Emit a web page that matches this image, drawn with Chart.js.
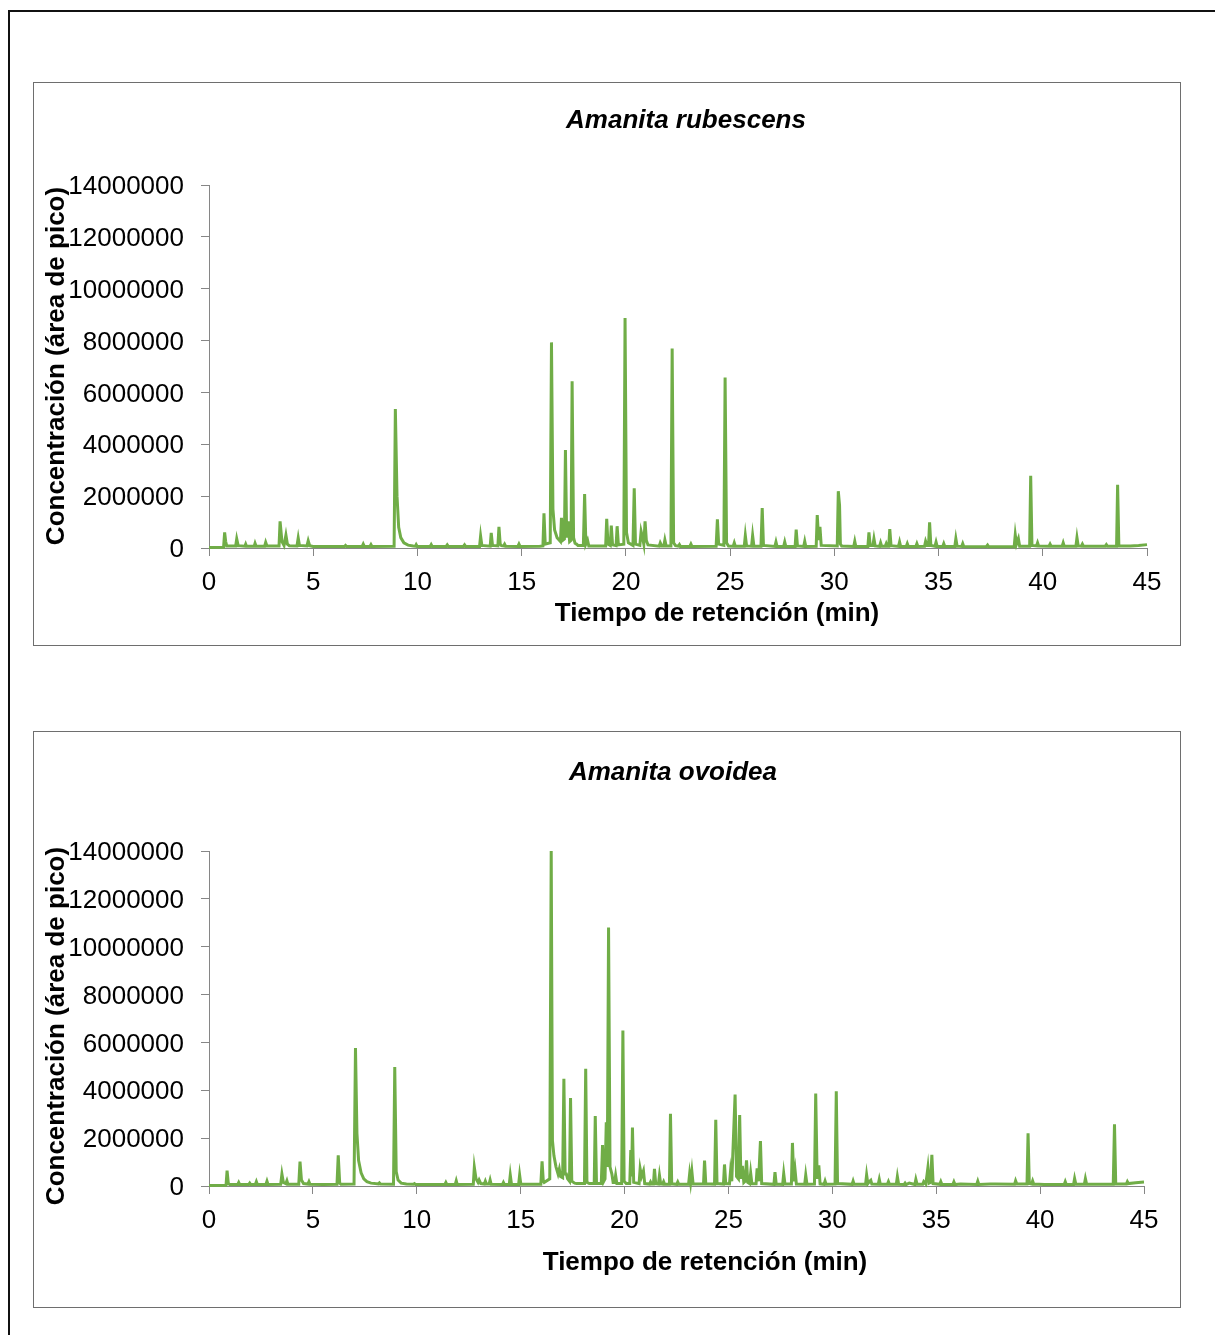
<!DOCTYPE html>
<html>
<head>
<meta charset="utf-8">
<script src="https://cdn.jsdelivr.net/npm/chart.js@4.4.1/dist/chart.umd.min.js"></script>
<style>
  body { margin: 0; background: #fff; }
  #page { position: relative; width: 1215px; height: 1335px; overflow: hidden; }
  .frame { position: absolute; left: 8px; top: 10px; width: 1240px; height: 1360px; border: 2px solid #111; }
  .panel { position: absolute; left: 33px; width: 1148px; border: 1px solid #6e6e6e; box-sizing: border-box; }
  canvas { position: absolute; left: 33px; }
</style>
</head>
<body>
<div id="page">
  <div class="frame"></div>
  <div class="panel" style="top:82px;height:564px"></div>
  <div class="panel" style="top:731px;height:577px"></div>
  <canvas id="rubescensChart" width="1148" height="564" style="top:82px"></canvas>
  <canvas id="ovoideaChart" width="1148" height="577" style="top:731px"></canvas>
</div>
<script>
// titles
const speciesNames = ['Amanita rubescens', 'Amanita ovoidea'];
const xAxisTitle = 'Tiempo de retención (min)';
const yAxisTitle = 'Concentración (área de pico)';

// tick labels
const xTickLabels = ['0', '5', '10', '15', '20', '25', '30', '35', '40', '45'];
const yTickLabels = ['0', '2000000', '4000000', '6000000', '8000000', '10000000', '12000000', '14000000'];

// [retention time (min), peak area]
const rubescensTrace = [
  [0, 20000], [0.70, 30000], [0.75, 600000], [0.80, 250000], [0.85, 80000],
  [1.28, 80000], [1.33, 350000], [1.40, 90000],
  [1.72, 70000], [1.76, 150000], [1.80, 70000],
  [2.17, 70000], [2.21, 180000], [2.26, 70000],
  [2.67, 70000], [2.72, 220000], [2.78, 80000],
  [3.36, 80000], [3.41, 1030000], [3.50, 250000], [3.60, 100000], [3.69, 500000], [3.76, 150000], [3.85, 90000],
  [4.22, 80000], [4.28, 390000], [4.34, 100000],
  [4.70, 80000], [4.76, 280000], [4.83, 90000], [5.00, 60000],
  [6.50, 60000], [6.55, 100000], [6.60, 60000],
  [7.35, 60000], [7.40, 150000], [7.45, 60000],
  [7.72, 60000], [7.77, 130000], [7.82, 60000],
  [8.88, 70000], [8.94, 5360000], [9.02, 2000000], [9.10, 800000], [9.20, 400000], [9.35, 200000], [9.55, 110000], [9.80, 80000],
  [9.90, 70000], [9.94, 130000], [9.99, 60000],
  [10.61, 60000], [10.66, 130000], [10.71, 60000],
  [11.38, 60000], [11.43, 120000], [11.48, 60000],
  [12.21, 60000], [12.26, 120000], [12.31, 60000],
  [12.98, 60000], [13.03, 460000], [13.09, 100000],
  [13.49, 70000], [13.54, 580000], [13.60, 100000],
  [13.86, 80000], [13.91, 820000], [13.97, 150000], [14.03, 90000],
  [14.13, 80000], [14.18, 150000], [14.23, 70000],
  [14.82, 60000], [14.87, 150000], [14.92, 60000],
  [15.87, 70000], [16.02, 80000], [16.07, 1340000], [16.13, 150000], [16.37, 200000], [16.43, 7930000], [16.50, 1500000],
  [16.58, 700000], [16.70, 400000], [16.86, 250000], [16.91, 1160000], [16.97, 300000], [17.05, 350000], [17.10, 3780000],
  [17.16, 400000], [17.23, 1030000], [17.30, 250000], [17.37, 300000], [17.42, 6430000], [17.49, 400000], [17.56, 180000],
  [17.63, 150000], [17.70, 100000],
  [17.96, 100000], [18.02, 2080000], [18.08, 150000], [18.16, 300000], [18.22, 80000],
  [19.03, 80000], [19.08, 1130000], [19.14, 150000], [19.25, 100000], [19.30, 860000], [19.36, 120000],
  [19.53, 90000], [19.58, 840000], [19.64, 120000],
  [19.90, 150000], [19.96, 8870000], [20.03, 600000], [20.12, 200000],
  [20.34, 100000], [20.40, 2300000], [20.46, 150000],
  [20.67, 100000], [20.73, 640000], [20.80, 400000], [20.86, 150000], [20.92, 1030000], [20.98, 300000], [21.06, 120000],
  [21.60, 70000], [21.65, 200000], [21.72, 80000], [21.82, 80000], [21.87, 310000], [21.93, 80000],
  [22.16, 80000], [22.22, 7690000], [22.29, 200000], [22.38, 90000],
  [22.52, 70000], [22.57, 130000], [22.62, 60000],
  [23.07, 60000], [23.12, 150000], [23.17, 60000],
  [24.33, 70000], [24.39, 1110000], [24.45, 150000], [24.70, 100000], [24.76, 6580000], [24.83, 200000], [24.92, 80000],
  [25.15, 70000], [25.20, 200000], [25.25, 70000],
  [25.68, 70000], [25.73, 480000], [25.79, 80000],
  [26.03, 70000], [26.08, 480000], [26.14, 80000],
  [26.48, 70000], [26.54, 1540000], [26.60, 100000],
  [27.15, 60000], [27.20, 230000], [27.25, 60000],
  [27.57, 60000], [27.62, 230000], [27.67, 60000],
  [28.12, 60000], [28.17, 710000], [28.23, 80000],
  [28.53, 60000], [28.58, 260000], [28.63, 60000],
  [29.13, 70000], [29.18, 1270000], [29.25, 300000], [29.31, 820000], [29.37, 100000],
  [30.14, 80000], [30.19, 2190000], [30.25, 1650000], [30.29, 150000], [30.35, 80000],
  [30.93, 60000], [30.98, 260000], [31.03, 60000],
  [31.61, 60000], [31.66, 600000], [31.72, 100000], [31.85, 100000], [31.90, 360000], [31.96, 80000],
  [32.17, 60000], [32.22, 200000], [32.27, 70000], [32.44, 70000], [32.49, 170000], [32.54, 70000],
  [32.61, 70000], [32.66, 730000], [32.72, 90000],
  [33.08, 60000], [33.13, 230000], [33.18, 60000],
  [33.45, 60000], [33.50, 170000], [33.55, 60000],
  [33.91, 60000], [33.96, 170000], [34.01, 60000],
  [34.33, 70000], [34.38, 260000], [34.45, 100000], [34.52, 100000], [34.57, 990000], [34.63, 100000],
  [34.83, 70000], [34.88, 230000], [34.93, 70000],
  [35.20, 60000], [35.25, 170000], [35.30, 60000],
  [35.78, 60000], [35.83, 360000], [35.89, 70000],
  [36.11, 60000], [36.16, 170000], [36.21, 60000],
  [36.80, 50000], [37.30, 60000], [37.35, 110000], [37.40, 50000],
  [38.00, 50000], [38.63, 60000], [38.68, 510000], [38.74, 150000], [38.83, 360000], [38.89, 70000],
  [39.37, 70000], [39.42, 2790000], [39.48, 100000], [39.70, 80000], [39.75, 200000], [39.80, 80000],
  [40.30, 70000], [40.35, 150000], [40.40, 70000],
  [40.93, 70000], [40.98, 200000], [41.03, 70000],
  [41.59, 70000], [41.64, 400000], [41.70, 80000], [41.85, 70000], [41.90, 150000], [41.95, 70000],
  [43.00, 70000], [43.05, 130000], [43.10, 70000],
  [43.54, 70000], [43.59, 2440000], [43.65, 80000],
  [44.20, 80000], [44.60, 100000], [45.00, 130000]
];

const ovoideaTrace = [
  [0, 20000], [0.82, 30000], [0.87, 640000], [0.93, 100000], [1.00, 60000],
  [1.38, 60000], [1.43, 150000], [1.48, 60000],
  [1.91, 60000], [1.96, 120000], [2.01, 60000],
  [2.23, 60000], [2.28, 180000], [2.33, 60000],
  [2.74, 60000], [2.79, 200000], [2.84, 60000],
  [3.45, 70000], [3.51, 500000], [3.58, 150000], [3.70, 100000], [3.75, 220000], [3.80, 70000],
  [4.32, 70000], [4.38, 1020000], [4.45, 250000], [4.55, 100000], [4.76, 80000], [4.81, 180000], [4.86, 70000],
  [5.50, 60000], [6.16, 70000], [6.22, 1280000], [6.29, 120000], [6.35, 70000],
  [6.98, 80000], [7.05, 5770000], [7.12, 2200000], [7.20, 1060000], [7.32, 550000], [7.45, 300000], [7.60, 180000],
  [7.80, 120000], [8.00, 100000], [8.15, 90000], [8.20, 130000], [8.25, 80000],
  [8.88, 70000], [8.94, 4970000], [9.01, 600000], [9.10, 250000], [9.25, 120000], [9.50, 80000],
  [9.84, 70000], [9.89, 100000], [9.94, 60000],
  [11.35, 60000], [11.40, 150000], [11.45, 60000],
  [11.85, 60000], [11.90, 220000], [11.95, 60000],
  [12.72, 70000], [12.77, 780000], [12.85, 300000], [12.95, 150000], [13.00, 250000], [13.08, 100000],
  [13.25, 80000], [13.30, 200000], [13.35, 80000], [13.48, 80000], [13.53, 250000], [13.58, 70000],
  [14.12, 60000], [14.17, 150000], [14.22, 60000],
  [14.45, 60000], [14.50, 460000], [14.56, 70000],
  [14.90, 60000], [14.95, 460000], [15.01, 70000],
  [15.97, 70000], [16.03, 1030000], [16.09, 200000], [16.13, 150000], [16.40, 300000], [16.47, 14000000],
  [16.53, 1900000], [16.60, 1270000], [16.70, 800000], [16.80, 500000], [16.86, 710000], [16.92, 400000],
  [17.02, 350000], [17.08, 4480000], [17.14, 500000], [17.20, 500000], [17.26, 300000], [17.35, 200000],
  [17.40, 3680000], [17.46, 200000], [17.60, 120000], [17.70, 100000],
  [18.07, 100000], [18.13, 4900000], [18.19, 150000], [18.30, 100000],
  [18.54, 100000], [18.59, 2920000], [18.65, 100000],
  [18.88, 100000], [18.94, 1710000], [19.00, 200000], [19.06, 300000], [19.12, 2660000], [19.17, 800000],
  [19.23, 10800000], [19.30, 800000], [19.39, 500000], [19.45, 150000], [19.52, 150000], [19.57, 450000], [19.63, 100000],
  [19.86, 100000], [19.92, 6500000], [19.98, 200000], [20.08, 100000],
  [20.25, 100000], [20.30, 1500000], [20.34, 400000], [20.38, 2440000], [20.44, 150000],
  [20.70, 100000], [20.75, 720000], [20.82, 400000], [20.91, 630000], [20.97, 100000],
  [21.20, 80000], [21.25, 170000], [21.30, 80000],
  [21.39, 80000], [21.44, 720000], [21.50, 100000], [21.63, 80000], [21.68, 450000], [21.74, 90000],
  [21.83, 80000], [21.88, 180000], [21.93, 70000],
  [22.16, 70000], [22.21, 3020000], [22.27, 90000],
  [22.51, 70000], [22.56, 170000], [22.61, 70000],
  [23.08, 70000], [23.13, 490000], [23.18, 150000], [23.24, 610000], [23.30, 80000],
  [23.80, 80000], [23.85, 1060000], [23.91, 90000],
  [24.33, 80000], [24.39, 2770000], [24.45, 100000],
  [24.76, 80000], [24.81, 900000], [24.87, 100000],
  [25.05, 90000], [25.10, 610000], [25.16, 200000], [25.32, 3820000], [25.39, 400000], [25.48, 300000],
  [25.54, 2970000], [25.60, 300000], [25.67, 840000], [25.74, 150000], [25.80, 200000], [25.87, 1070000],
  [25.93, 150000], [26.02, 100000], [26.07, 540000], [26.13, 90000],
  [26.33, 90000], [26.38, 740000], [26.45, 200000], [26.54, 1880000], [26.60, 100000],
  [27.19, 70000], [27.24, 580000], [27.30, 80000],
  [27.61, 70000], [27.66, 520000], [27.72, 80000],
  [28.03, 80000], [28.08, 1800000], [28.15, 200000], [28.21, 630000], [28.27, 80000],
  [28.67, 70000], [28.72, 460000], [28.78, 70000],
  [29.14, 80000], [29.20, 3860000], [29.27, 300000], [29.35, 860000], [29.41, 90000],
  [29.60, 70000], [29.65, 210000], [29.70, 70000],
  [30.13, 80000], [30.19, 3960000], [30.25, 100000],
  [30.95, 70000], [31.00, 210000], [31.05, 70000],
  [31.60, 70000], [31.65, 470000], [31.71, 100000], [31.80, 200000], [31.85, 240000], [31.90, 80000],
  [32.21, 70000], [32.26, 280000], [32.31, 70000],
  [32.65, 70000], [32.70, 180000], [32.75, 70000],
  [33.08, 70000], [33.13, 390000], [33.19, 70000],
  [33.45, 60000], [33.50, 120000], [33.55, 60000], [33.70, 120000],
  [33.97, 60000], [34.02, 280000], [34.08, 70000],
  [34.35, 70000], [34.40, 180000], [34.50, 80000], [34.60, 770000], [34.66, 120000], [34.73, 150000],
  [34.79, 1300000], [34.85, 100000],
  [35.17, 70000], [35.22, 180000], [35.27, 70000],
  [35.80, 60000], [35.85, 170000], [35.90, 60000],
  [36.17, 80000], [36.95, 60000], [37.00, 200000], [37.05, 60000],
  [37.60, 80000], [37.85, 80000], [38.77, 70000], [38.82, 220000], [38.88, 80000],
  [39.37, 80000], [39.42, 2200000], [39.48, 100000], [39.59, 80000], [39.64, 210000], [39.69, 80000],
  [40.20, 60000], [40.90, 60000], [41.16, 60000], [41.21, 180000], [41.26, 60000],
  [41.61, 60000], [41.66, 310000], [41.72, 70000],
  [42.13, 70000], [42.18, 310000], [42.24, 70000],
  [43.52, 70000], [43.58, 2580000], [43.64, 80000],
  [44.15, 80000], [44.20, 180000], [44.25, 100000], [44.60, 140000], [45.00, 170000]
];

const fontFamily = '"Liberation Sans", Arial, sans-serif';
Chart.defaults.font.family = fontFamily;
Chart.defaults.font.size = 26;
Chart.defaults.color = '#000';

// draws the chart title and the axis titles where the original has them
const panelTexts = {
  id: 'panelTexts',
  afterDraw(chart, args, opts) {
    const ctx = chart.ctx;
    ctx.save();
    ctx.fillStyle = '#000';
    ctx.textAlign = 'center';
    ctx.textBaseline = 'middle';
    ctx.font = 'italic bold 26px ' + fontFamily;
    ctx.fillText(opts.title, opts.titleAt[0], opts.titleAt[1]);
    ctx.font = 'bold 26px ' + fontFamily;
    ctx.fillText(xAxisTitle, opts.xTitleAt[0], opts.xTitleAt[1]);
    ctx.translate(opts.yTitleAt[0], opts.yTitleAt[1]);
    ctx.rotate(-Math.PI / 2);
    ctx.fillText(yAxisTitle, 0, 0);
    ctx.restore();
  }
};

function drawChromatogram(canvasId, trace, title, layout)
{
  const ctx = document.getElementById(canvasId).getContext('2d');
  new Chart(ctx, {
    type: 'line',
    data: {
      datasets: [{
        data: trace.map(p => ({ x: p[0], y: p[1] })),
        borderColor: '#70ad47',
        borderWidth: 3,
        pointRadius: 0,
        tension: 0,
        fill: false,
        clip: false
      }]
    },
    options: {
      responsive: false,
      animation: false,
      devicePixelRatio: 1,
      layout: { padding: layout.padding },
      plugins: {
        legend: { display: false },
        tooltip: { enabled: false },
        panelTexts: {
          title: title,
          titleAt: layout.titleAt,
          xTitleAt: layout.xTitleAt,
          yTitleAt: layout.yTitleAt
        }
      },
      scales: {
        x: {
          type: 'linear',
          min: 0,
          max: 45,
          afterFit: scale => { scale.height = 60; },
          border: { display: true, color: '#868686', width: 1 },
          grid: { display: true, drawOnChartArea: false, drawTicks: true, tickLength: 8, color: '#868686' },
          ticks: {
            stepSize: 5,
            padding: 11,
            maxRotation: 0,
            autoSkip: false,
            callback: (value, index) => xTickLabels[index]
          }
        },
        y: {
          min: 0,
          max: 14000000,
          afterFit: scale => { scale.width = 176; },
          border: { display: true, color: '#868686', width: 1 },
          grid: { display: true, drawOnChartArea: false, drawTicks: true, tickLength: 8, color: '#868686' },
          ticks: {
            stepSize: 2000000,
            padding: 17,
            labelOffset: 2,
            autoSkip: false,
            callback: (value, index) => yTickLabels[index]
          }
        }
      }
    },
    plugins: [panelTexts]
  });
}

drawChromatogram('rubescensChart', rubescensTrace, speciesNames[0], {
  padding: { left: 0, right: 34, top: 103, bottom: 38 },
  titleAt: [653, 39],
  xTitleAt: [684, 532],
  yTitleAt: [24, 284]
});

drawChromatogram('ovoideaChart', ovoideaTrace, speciesNames[1], {
  padding: { left: 0, right: 37, top: 120, bottom: 62 },
  titleAt: [640, 42],
  xTitleAt: [672, 532],
  yTitleAt: [24, 295]
});
</script>
</body>
</html>
